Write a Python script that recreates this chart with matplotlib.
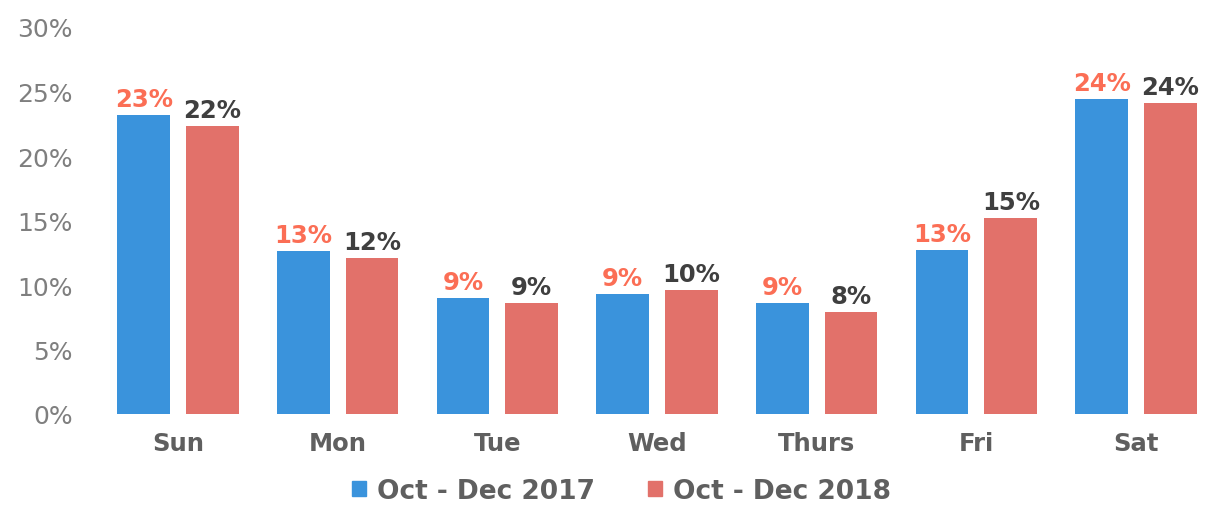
import numpy as np
import matplotlib.pyplot as plt
from matplotlib.patches import Patch

# day-of-week share
days = ['Sun', 'Mon', 'Tue', 'Wed', 'Thurs', 'Fri', 'Sat']
share_2017 = [0.232, 0.126, 0.090, 0.093, 0.086, 0.127, 0.244]
share_2018 = [0.223, 0.121, 0.086, 0.096, 0.079, 0.152, 0.241]
labels_2017 = ['23%', '13%', '9%', '9%', '9%', '13%', '24%']
labels_2018 = ['22%', '12%', '9%', '10%', '8%', '15%', '24%']
series_names = ['Oct - Dec 2017', 'Oct - Dec 2018']

blue = '#3a93dc'
red = '#e2716a'
lbl_blue = '#fb6e55'
lbl_red = '#3f3f3f'
gray = '#7f7f7f'
dark_gray = '#5f5f5f'

fig = plt.figure(figsize=(12.09, 5.06), dpi=100)
ax = fig.add_axes([95 / 1209, 1 - 415 / 506, 1113 / 1209, (415 - 28) / 506])

x = np.arange(len(days))
w = 0.33
off = 0.215
b1 = ax.bar(x - off, share_2017, w, color=blue)
b2 = ax.bar(x + off, share_2018, w, color=red)

for rect, lab in zip(b1, labels_2017):
    ax.annotate(lab, (rect.get_x() + rect.get_width() / 2, rect.get_height()),
                xytext=(0, 3), textcoords='offset points', ha='center', va='bottom',
                fontsize=17.5, fontweight='bold', color=lbl_blue)
for rect, lab in zip(b2, labels_2018):
    ax.annotate(lab, (rect.get_x() + rect.get_width() / 2, rect.get_height()),
                xytext=(0, 3), textcoords='offset points', ha='center', va='bottom',
                fontsize=17.5, fontweight='bold', color=lbl_red)

ax.set_xlim(-0.52, 6.45)
ax.set_ylim(0, 0.30)
ax.set_yticks(np.arange(0, 0.31, 0.05))
ax.set_yticklabels([f'{int(round(v * 100))}%' for v in np.arange(0, 0.31, 0.05)],
                   fontsize=18, color=gray)
ax.set_xticks(x)
ax.set_xticklabels(days, fontsize=17.5, fontweight='bold', color=dark_gray)
ax.tick_params(length=0)
ax.tick_params(axis='x', pad=12)
ax.tick_params(axis='y', pad=16)
for s in ax.spines.values():
    s.set_visible(False)

handles = [Patch(color=blue), Patch(color=red)]
leg = fig.legend(handles, series_names, loc='center', bbox_to_anchor=(0.514, 0.028),
                 ncol=2, frameon=False, handlelength=0.55, handleheight=0.55,
                 handletextpad=0.4, columnspacing=2.0,
                 prop={'size': 19, 'weight': 'bold'})
for t in leg.get_texts():
    t.set_color(dark_gray)

fig.savefig('out.png', dpi=100)
